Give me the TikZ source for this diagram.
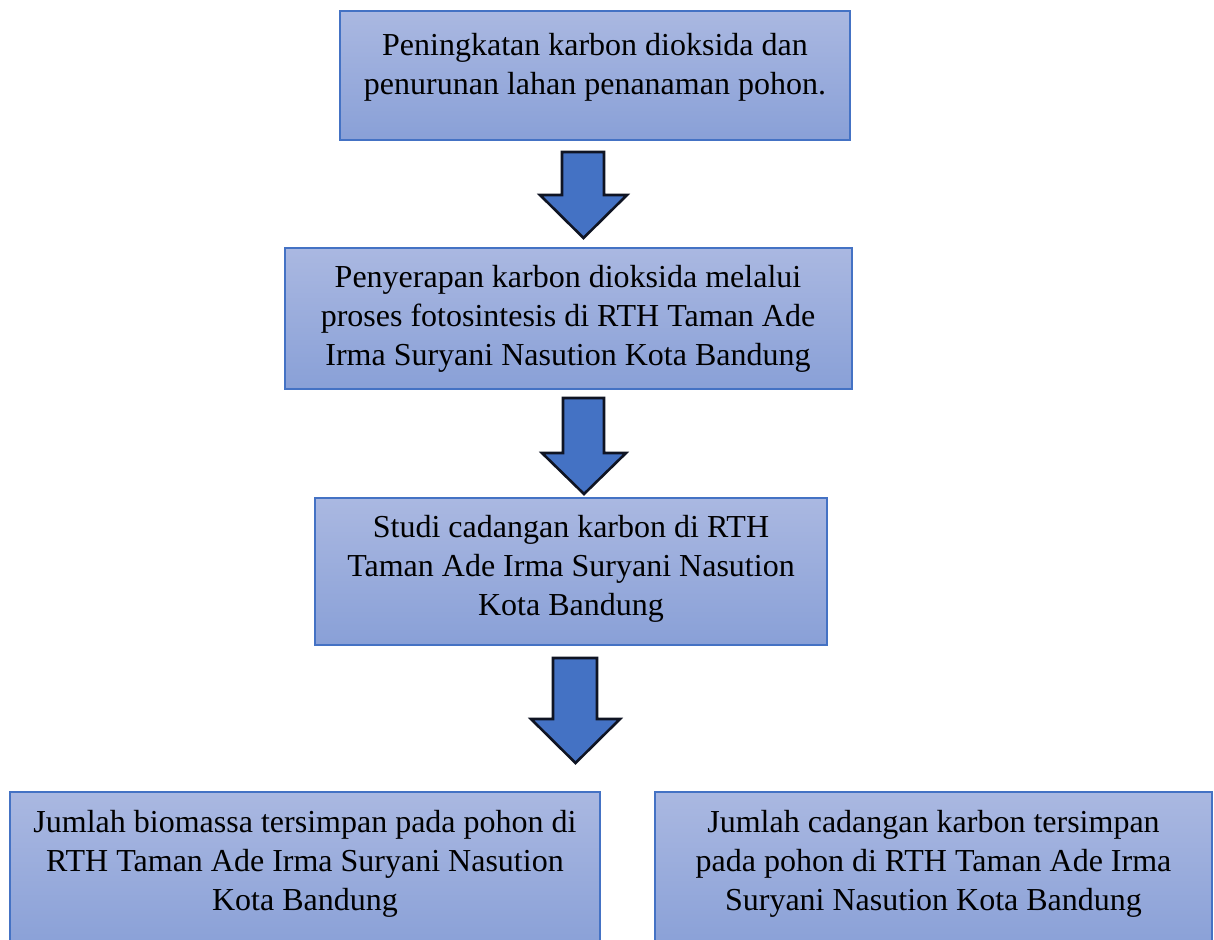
\documentclass[tikz,border=0pt]{standalone}
\usepackage{fontspec}
\setmainfont{Liberation Serif}
\usepackage{xcolor}
\definecolor{boxtop}{RGB}{170,184,225}
\definecolor{boxbottom}{RGB}{137,160,215}
\definecolor{boxline}{RGB}{68,114,196}
\definecolor{arrowfill}{RGB}{68,114,196}
\definecolor{arrowline}{RGB}{15,20,35}

\begin{document}
\begin{tikzpicture}[x=1pt,y=-1pt]
  \tikzset{flowbox/.style={rectangle,draw=boxline,line width=1.2pt,top color=boxtop,bottom color=boxbottom,inner sep=0pt}}
  \tikzset{flowtext/.style={align=center,font=\fontsize{32}{39}\selectfont,inner sep=0pt,text=black}}
  \tikzset{blockarrow/.style={draw=arrowline,fill=arrowfill,line width=2.6pt,line join=miter}}
  \clip (0,0) rectangle (1214,939);
  \fill[white] (0,0) rectangle (1214,939);
  \node[flowbox,minimum width=510,minimum height=129] (b1) at (595,75.5) {};
  \node[flowtext] (t1) at (595,67) {Peningkatan karbon dioksida dan\\penurunan lahan penanaman pohon.};
  \node[flowbox,minimum width=567,minimum height=141] (b2) at (568.5,318.5) {};
  \node[flowtext] (t2) at (568,319) {Penyerapan karbon dioksida melalui\\proses fotosintesis di RTH Taman Ade\\Irma Suryani Nasution Kota Bandung};
  \node[flowbox,minimum width=512,minimum height=147] (b3) at (571,571.5) {};
  \node[flowtext] (t3) at (571,569) {Studi cadangan karbon di RTH\\Taman Ade Irma Suryani Nasution\\Kota Bandung};
  \node[flowbox,minimum width=590,minimum height=158] (b4) at (305,871) {};
  \node[flowtext] (t4) at (305,864) {Jumlah biomassa tersimpan pada pohon di\\RTH Taman Ade Irma Suryani Nasution\\Kota Bandung};
  \node[flowbox,minimum width=557,minimum height=158] (b5) at (933.5,871) {};
  \node[flowtext] (t5) at (933.5,864) {Jumlah cadangan karbon tersimpan\\pada pohon di RTH Taman Ade Irma\\Suryani Nasution Kota Bandung};
  % block arrows between the boxes
  \draw[blockarrow] (562,152) -- (604,152) -- (604,195) -- (627,195) -- (583.5,238) -- (540,195) -- (562,195) -- cycle;
  \draw[blockarrow] (563,398) -- (604,398) -- (604,453) -- (626,453) -- (584,494) -- (542,453) -- (563,453) -- cycle;
  \draw[blockarrow] (553,658) -- (597,658) -- (597,719) -- (620,719) -- (575.5,763) -- (531,719) -- (553,719) -- cycle;
\end{tikzpicture}
\end{document}
